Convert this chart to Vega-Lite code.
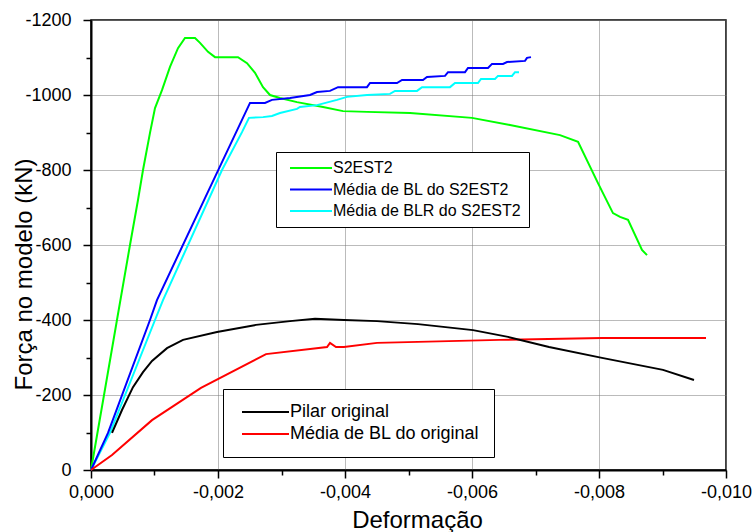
{
  "$schema": "https://vega.github.io/schema/vega-lite/v6.json",
  "width": 635,
  "height": 450,
  "autosize": {"type": "none"},
  "padding": {"left": 91, "top": 20, "right": 30, "bottom": 62},
  "background": "white",
  "config": {
    "font": "Liberation Sans",
    "view": {"stroke": "black", "strokeWidth": 1.5},
    "axis": {
      "domainColor": "black",
      "domainWidth": 2,
      "tickColor": "black",
      "tickWidth": 1.5,
      "gridColor": "#777777",
      "gridDash": [1, 1],
      "gridWidth": 1,
      "labelFont": "Liberation Sans",
      "labelFontSize": 18,
      "labelColor": "black",
      "labelOverlap": false,
      "labelFlush": false,
      "titleFont": "Liberation Sans",
      "titleFontSize": 24,
      "titleFontWeight": "normal",
      "titleColor": "black"
    },
    "legend": {
      "labelFont": "Liberation Sans",
      "labelColor": "black",
      "labelLimit": 400,
      "strokeColor": "black",
      "fillColor": "white"
    }
  },
  "datasets": {
    "s2est2": [
      {"serie": "S2EST2", "i": 0, "x": 0, "y": 0},
      {"serie": "S2EST2", "i": 1, "x": -0.000205, "y": -200},
      {"serie": "S2EST2", "i": 2, "x": -0.000409, "y": -400},
      {"serie": "S2EST2", "i": 3, "x": -0.000614, "y": -600},
      {"serie": "S2EST2", "i": 4, "x": -0.00074, "y": -720},
      {"serie": "S2EST2", "i": 5, "x": -0.000819, "y": -800},
      {"serie": "S2EST2", "i": 6, "x": -0.000929, "y": -899},
      {"serie": "S2EST2", "i": 7, "x": -0.001008, "y": -965},
      {"serie": "S2EST2", "i": 8, "x": -0.001118, "y": -1013},
      {"serie": "S2EST2", "i": 9, "x": -0.001244, "y": -1075},
      {"serie": "S2EST2", "i": 10, "x": -0.00137, "y": -1125},
      {"serie": "S2EST2", "i": 11, "x": -0.00148, "y": -1152},
      {"serie": "S2EST2", "i": 12, "x": -0.001638, "y": -1152},
      {"serie": "S2EST2", "i": 13, "x": -0.001717, "y": -1139},
      {"serie": "S2EST2", "i": 14, "x": -0.001843, "y": -1115},
      {"serie": "S2EST2", "i": 15, "x": -0.001953, "y": -1101},
      {"serie": "S2EST2", "i": 16, "x": -0.002315, "y": -1101},
      {"serie": "S2EST2", "i": 17, "x": -0.002457, "y": -1085},
      {"serie": "S2EST2", "i": 18, "x": -0.002583, "y": -1059},
      {"serie": "S2EST2", "i": 19, "x": -0.002709, "y": -1021},
      {"serie": "S2EST2", "i": 20, "x": -0.002819, "y": -1000},
      {"serie": "S2EST2", "i": 21, "x": -0.002976, "y": -992},
      {"serie": "S2EST2", "i": 22, "x": -0.003244, "y": -981},
      {"serie": "S2EST2", "i": 23, "x": -0.003654, "y": -968},
      {"serie": "S2EST2", "i": 24, "x": -0.003969, "y": -957},
      {"serie": "S2EST2", "i": 25, "x": -0.004346, "y": -955},
      {"serie": "S2EST2", "i": 26, "x": -0.005024, "y": -952},
      {"serie": "S2EST2", "i": 27, "x": -0.006, "y": -939},
      {"serie": "S2EST2", "i": 28, "x": -0.006598, "y": -920},
      {"serie": "S2EST2", "i": 29, "x": -0.007386, "y": -893},
      {"serie": "S2EST2", "i": 30, "x": -0.00767, "y": -875},
      {"serie": "S2EST2", "i": 31, "x": -0.007984, "y": -765},
      {"serie": "S2EST2", "i": 32, "x": -0.00822, "y": -685},
      {"serie": "S2EST2", "i": 33, "x": -0.008331, "y": -675},
      {"serie": "S2EST2", "i": 34, "x": -0.008457, "y": -667},
      {"serie": "S2EST2", "i": 35, "x": -0.008677, "y": -587},
      {"serie": "S2EST2", "i": 36, "x": -0.008756, "y": -573},

      {"serie": "Média de BLR do S2EST2", "i": 0, "x": 0, "y": 0},
      {"serie": "Média de BLR do S2EST2", "i": 1, "x": -0.000299, "y": -99},
      {"serie": "Média de BLR do S2EST2", "i": 2, "x": -0.001008, "y": -400},
      {"serie": "Média de BLR do S2EST2", "i": 3, "x": -0.001134, "y": -453},
      {"serie": "Média de BLR do S2EST2", "i": 4, "x": -0.002063, "y": -800},
      {"serie": "Média de BLR do S2EST2", "i": 5, "x": -0.002378, "y": -901},
      {"serie": "Média de BLR do S2EST2", "i": 6, "x": -0.002488, "y": -939},
      {"serie": "Média de BLR do S2EST2", "i": 7, "x": -0.002709, "y": -941},
      {"serie": "Média de BLR do S2EST2", "i": 8, "x": -0.00285, "y": -944},
      {"serie": "Média de BLR do S2EST2", "i": 9, "x": -0.002976, "y": -952},
      {"serie": "Média de BLR do S2EST2", "i": 10, "x": -0.003244, "y": -963},
      {"serie": "Média de BLR do S2EST2", "i": 11, "x": -0.003291, "y": -968},
      {"serie": "Média de BLR do S2EST2", "i": 12, "x": -0.003559, "y": -973},
      {"serie": "Média de BLR do S2EST2", "i": 13, "x": -0.003874, "y": -987},
      {"serie": "Média de BLR do S2EST2", "i": 14, "x": -0.004031, "y": -995},
      {"serie": "Média de BLR do S2EST2", "i": 15, "x": -0.004346, "y": -1000},
      {"serie": "Média de BLR do S2EST2", "i": 16, "x": -0.004709, "y": -1003},
      {"serie": "Média de BLR do S2EST2", "i": 17, "x": -0.004787, "y": -1011},
      {"serie": "Média de BLR do S2EST2", "i": 18, "x": -0.005134, "y": -1011},
      {"serie": "Média de BLR do S2EST2", "i": 19, "x": -0.005213, "y": -1021},
      {"serie": "Média de BLR do S2EST2", "i": 20, "x": -0.005654, "y": -1021},
      {"serie": "Média de BLR do S2EST2", "i": 21, "x": -0.005732, "y": -1032},
      {"serie": "Média de BLR do S2EST2", "i": 22, "x": -0.006094, "y": -1032},
      {"serie": "Média de BLR do S2EST2", "i": 23, "x": -0.006142, "y": -1043},
      {"serie": "Média de BLR do S2EST2", "i": 24, "x": -0.006362, "y": -1043},
      {"serie": "Média de BLR do S2EST2", "i": 25, "x": -0.006409, "y": -1051},
      {"serie": "Média de BLR do S2EST2", "i": 26, "x": -0.00663, "y": -1051},
      {"serie": "Média de BLR do S2EST2", "i": 27, "x": -0.006677, "y": -1061},
      {"serie": "Média de BLR do S2EST2", "i": 28, "x": -0.00674, "y": -1061},

      {"serie": "Média de BL do S2EST2", "i": 0, "x": 0, "y": 0},
      {"serie": "Média de BL do S2EST2", "i": 1, "x": -0.000268, "y": -99},
      {"serie": "Média de BL do S2EST2", "i": 2, "x": -0.000929, "y": -400},
      {"serie": "Média de BL do S2EST2", "i": 3, "x": -0.001039, "y": -453},
      {"serie": "Média de BL do S2EST2", "i": 4, "x": -0.001795, "y": -725},
      {"serie": "Média de BL do S2EST2", "i": 5, "x": -0.002504, "y": -979},
      {"serie": "Média de BL do S2EST2", "i": 6, "x": -0.00274, "y": -979},
      {"serie": "Média de BL do S2EST2", "i": 7, "x": -0.00285, "y": -987},
      {"serie": "Média de BL do S2EST2", "i": 8, "x": -0.003134, "y": -992},
      {"serie": "Média de BL do S2EST2", "i": 9, "x": -0.003449, "y": -1000},
      {"serie": "Média de BL do S2EST2", "i": 10, "x": -0.003559, "y": -1008},
      {"serie": "Média de BL do S2EST2", "i": 11, "x": -0.003764, "y": -1011},
      {"serie": "Média de BL do S2EST2", "i": 12, "x": -0.00389, "y": -1021},
      {"serie": "Média de BL do S2EST2", "i": 13, "x": -0.004346, "y": -1021},
      {"serie": "Média de BL do S2EST2", "i": 14, "x": -0.004394, "y": -1032},
      {"serie": "Média de BL do S2EST2", "i": 15, "x": -0.004819, "y": -1032},
      {"serie": "Média de BL do S2EST2", "i": 16, "x": -0.004898, "y": -1040},
      {"serie": "Média de BL do S2EST2", "i": 17, "x": -0.005228, "y": -1040},
      {"serie": "Média de BL do S2EST2", "i": 18, "x": -0.005291, "y": -1048},
      {"serie": "Média de BL do S2EST2", "i": 19, "x": -0.005575, "y": -1051},
      {"serie": "Média de BL do S2EST2", "i": 20, "x": -0.005622, "y": -1061},
      {"serie": "Média de BL do S2EST2", "i": 21, "x": -0.00589, "y": -1061},
      {"serie": "Média de BL do S2EST2", "i": 22, "x": -0.005937, "y": -1072},
      {"serie": "Média de BL do S2EST2", "i": 23, "x": -0.006252, "y": -1072},
      {"serie": "Média de BL do S2EST2", "i": 24, "x": -0.006315, "y": -1083},
      {"serie": "Média de BL do S2EST2", "i": 25, "x": -0.006488, "y": -1083},
      {"serie": "Média de BL do S2EST2", "i": 26, "x": -0.006551, "y": -1088},
      {"serie": "Média de BL do S2EST2", "i": 27, "x": -0.006835, "y": -1091},
      {"serie": "Média de BL do S2EST2", "i": 28, "x": -0.006866, "y": -1099},
      {"serie": "Média de BL do S2EST2", "i": 29, "x": -0.006929, "y": -1101}
    ],
    "original": [
      {"serie": "Média de BL do original", "i": 0, "x": 0, "y": 0},
      {"serie": "Média de BL do original", "i": 1, "x": -0.000331, "y": -40},
      {"serie": "Média de BL do original", "i": 2, "x": -0.000961, "y": -133},
      {"serie": "Média de BL do original", "i": 3, "x": -0.001732, "y": -219},
      {"serie": "Média de BL do original", "i": 4, "x": -0.002756, "y": -309},
      {"serie": "Média de BL do original", "i": 5, "x": -0.003717, "y": -328},
      {"serie": "Média de BL do original", "i": 6, "x": -0.003764, "y": -339},
      {"serie": "Média de BL do original", "i": 7, "x": -0.003858, "y": -328},
      {"serie": "Média de BL do original", "i": 8, "x": -0.003984, "y": -328},
      {"serie": "Média de BL do original", "i": 9, "x": -0.004504, "y": -339},
      {"serie": "Média de BL do original", "i": 10, "x": -0.006441, "y": -347},
      {"serie": "Média de BL do original", "i": 11, "x": -0.008047, "y": -352},
      {"serie": "Média de BL do original", "i": 12, "x": -0.009685, "y": -352},

      {"serie": "Pilar original", "i": 0, "x": -0.000331, "y": -99},
      {"serie": "Pilar original", "i": 1, "x": -0.000488, "y": -160},
      {"serie": "Pilar original", "i": 2, "x": -0.000661, "y": -221},
      {"serie": "Pilar original", "i": 3, "x": -0.000819, "y": -261},
      {"serie": "Pilar original", "i": 4, "x": -0.000961, "y": -291},
      {"serie": "Pilar original", "i": 5, "x": -0.001197, "y": -325},
      {"serie": "Pilar original", "i": 6, "x": -0.001449, "y": -347},
      {"serie": "Pilar original", "i": 7, "x": -0.001984, "y": -368},
      {"serie": "Pilar original", "i": 8, "x": -0.002598, "y": -387},
      {"serie": "Pilar original", "i": 9, "x": -0.003134, "y": -397},
      {"serie": "Pilar original", "i": 10, "x": -0.003528, "y": -403},
      {"serie": "Pilar original", "i": 11, "x": -0.003984, "y": -400},
      {"serie": "Pilar original", "i": 12, "x": -0.004504, "y": -397},
      {"serie": "Pilar original", "i": 13, "x": -0.00515, "y": -389},
      {"serie": "Pilar original", "i": 14, "x": -0.006016, "y": -373},
      {"serie": "Pilar original", "i": 15, "x": -0.006567, "y": -355},
      {"serie": "Pilar original", "i": 16, "x": -0.007213, "y": -328},
      {"serie": "Pilar original", "i": 17, "x": -0.008047, "y": -299},
      {"serie": "Pilar original", "i": 18, "x": -0.009008, "y": -267},
      {"serie": "Pilar original", "i": 19, "x": -0.009496, "y": -240}
    ]
  },
  "encoding": {
    "x": {
      "field": "x",
      "type": "quantitative",
      "scale": {"domain": [-0.01, 0], "reverse": true, "nice": false, "zero": false},
      "axis": {
        "title": "Deformação",
        "values": [0, -0.001, -0.002, -0.003, -0.004, -0.005, -0.006, -0.007, -0.008, -0.009, -0.01],
        "labelExpr": "round(abs(datum.value) * 1000) % 2 == 0 ? replace(replace(format(datum.value, '.3f'), '.', ','), '\u2212', '-') : ''",
        "tickSize": {"condition": {"test": "round(abs(datum.value) * 1000) % 2 == 0", "value": 8}, "value": 5},
        "grid": true,
        "gridOpacity": {"condition": {"test": "round(abs(datum.value) * 1000) % 2 == 0", "value": 1}, "value": 0},
        "labelPadding": 5,
        "titleX": 326,
        "titleY": 57,
        "titleBaseline": "alphabetic"
      }
    },
    "y": {
      "field": "y",
      "type": "quantitative",
      "scale": {"domain": [-1200, 0], "reverse": true, "nice": false, "zero": false},
      "axis": {
        "title": "Força no modelo (kN)",
        "values": [0, -100, -200, -300, -400, -500, -600, -700, -800, -900, -1000, -1100, -1200],
        "labelExpr": "round(abs(datum.value)) % 200 == 0 ? replace(format(datum.value, 'd'), '\u2212', '-') : ''",
        "tickSize": {"condition": {"test": "round(abs(datum.value)) % 200 == 0", "value": 8}, "value": 5},
        "grid": true,
        "gridOpacity": {"condition": {"test": "round(abs(datum.value)) % 200 == 0", "value": 1}, "value": 0},
        "labelPadding": 12,
        "titleX": -60,
        "titleY": 254,
        "titleBaseline": "alphabetic"
      }
    },
    "order": {"field": "i", "type": "quantitative"}
  },
  "layer": [
    {
      "data": {"name": "s2est2"},
      "mark": {"type": "line", "strokeWidth": 2},
      "encoding": {
        "color": {
          "field": "serie",
          "type": "nominal",
          "scale": {
            "domain": ["S2EST2", "Média de BL do S2EST2", "Média de BLR do S2EST2"],
            "range": ["#00ff00", "#0000ff", "#00ffff"]
          },
          "legend": {
            "title": null,
            "orient": "none",
            "legendX": 185,
            "legendY": 132,
            "padding": 8,
            "symbolType": "M-1,0H9.5",
            "symbolSize": 64,
            "symbolStrokeWidth": 2,
            "symbolOffset": 2,
            "labelFontSize": 16,
            "labelOffset": 31,
            "rowPadding": 5.5
          }
        }
      }
    },
    {
      "data": {"name": "original"},
      "mark": {"type": "line", "strokeWidth": 2},
      "encoding": {
        "color": {
          "field": "serie",
          "type": "nominal",
          "scale": {
            "domain": ["Pilar original", "Média de BL do original"],
            "range": ["#000000", "#ff0000"]
          },
          "legend": {
            "title": null,
            "orient": "none",
            "legendX": 132,
            "legendY": 369,
            "padding": 14,
            "symbolType": "M-1,0H10.75",
            "symbolSize": 64,
            "symbolStrokeWidth": 2,
            "symbolOffset": 0,
            "labelFontSize": 18,
            "labelOffset": 35,
            "rowPadding": 4
          }
        }
      }
    }
  ],
  "resolve": {"scale": {"color": "independent"}, "legend": {"color": "independent"}}
}
